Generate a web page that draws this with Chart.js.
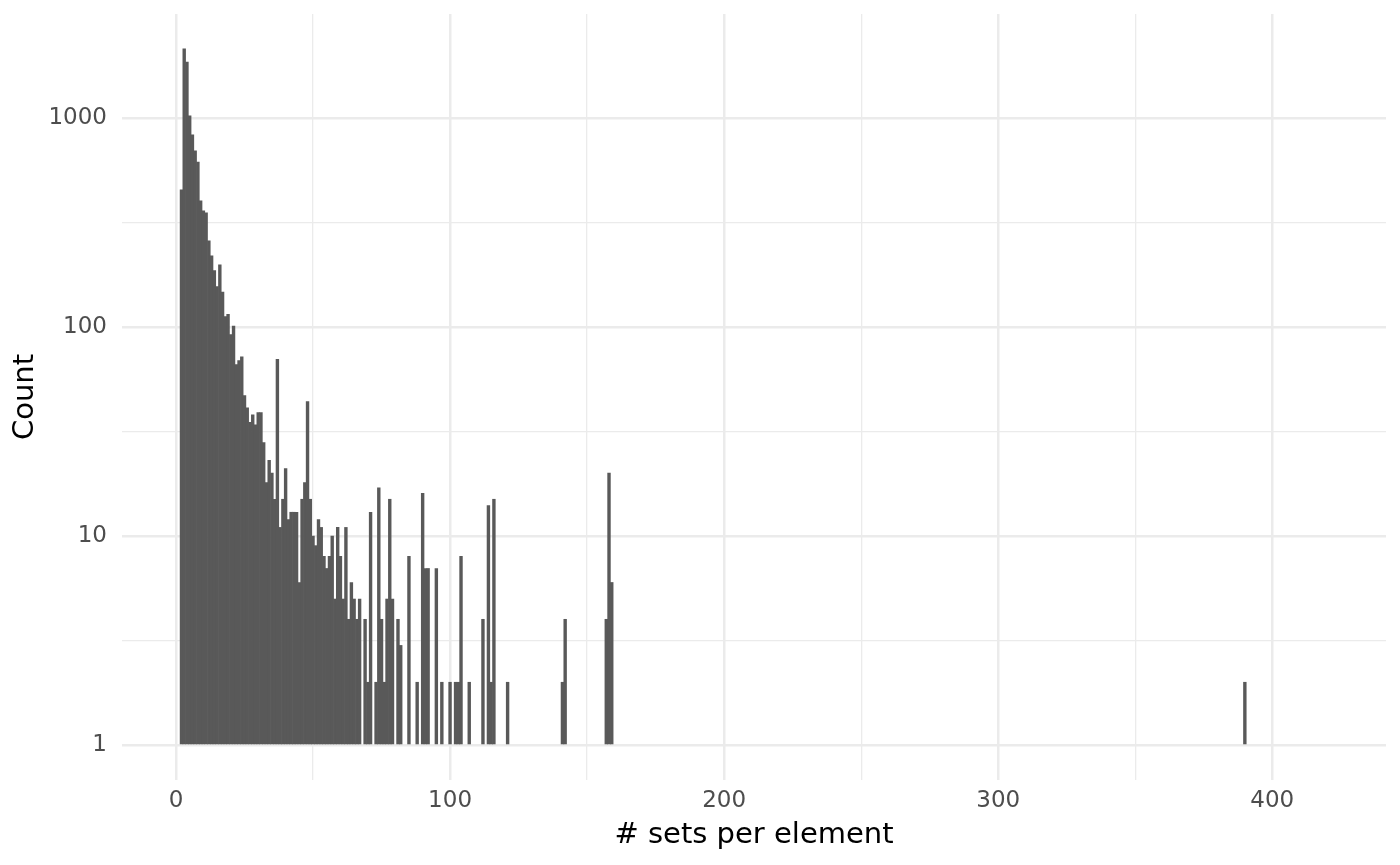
<!DOCTYPE html>
<html>
<head>
<meta charset="utf-8">
<script src="https://cdn.jsdelivr.net/npm/chart.js@4.4.0/dist/chart.umd.min.js"></script>
<style>
  html, body { margin: 0; padding: 0; background: #ffffff; }
  #wrap { width: 1400px; height: 865px; }
</style>
</head>
<body>
<div id="wrap"><canvas id="hist" width="1400" height="865"></canvas></div>
<script>
// bins with a non-zero count (# sets per element) and their counts
const bins = [2, 3, 4, 5, 6, 7, 8, 9, 10, 11, 12, 13, 14, 15, 16, 17, 18, 19, 20, 21,
  22, 23, 24, 25, 26, 27, 28, 29, 30, 31, 32, 33, 34, 35, 36, 37, 38, 39, 40, 41,
  42, 43, 44, 45, 46, 47, 48, 49, 50, 51, 52, 53, 54, 55, 56, 57, 58, 59, 60, 61,
  62, 63, 64, 65, 66, 67, 69, 70, 71, 73, 74, 75, 76, 77, 78, 79, 81, 82, 85, 88,
  90, 91, 92, 95, 97, 100, 102, 103, 104, 107, 112, 114, 115, 116, 121, 141, 142,
  157, 158, 159, 390];
const counts = [452, 2138, 1846, 1023, 829, 695, 614, 401, 359, 351, 258, 219, 186, 156, 198, 147, 112, 115, 92, 101,
  66, 69, 72, 47, 41, 35, 38, 34, 39, 39, 28, 18, 23, 20, 15, 70, 11, 15, 21, 12,
  13, 13, 13, 6, 15, 18, 44, 15, 10, 9, 12, 11, 8, 7, 8, 10, 5, 11, 8, 5,
  11, 4, 6, 5, 4, 5, 4, 2, 13, 2, 17, 4, 2, 5, 15, 5, 4, 3, 8, 2,
  16, 7, 7, 7, 2, 2, 2, 2, 8, 2, 4, 14, 2, 15, 2, 2, 4,
  4, 20, 6, 2];

const xMajorTicks = [0, 100, 200, 300, 400];
const xMinorTicks = [50, 150, 250, 350];
const yMajorTicks = [1, 10, 100, 1000];
const yMinorTicks = [3.1623, 31.623, 316.23];

const gridColor = '#EBEBEB';
const tickFont = { family: 'DejaVu Sans', size: 23 };
const titleFont = { family: 'DejaVu Sans', size: 29 };

const ctx = document.getElementById('hist');

new Chart(ctx, {
  type: 'bar',
  data: {
    datasets: [{
      label: 'Count',
      data: bins.map((b, i) => ({ x: b, y: counts[i] })),
      backgroundColor: '#595959',
      borderWidth: 0,
      base: 1,
      barPercentage: 1,
      categoryPercentage: 1
    }]
  },
  options: {
    responsive: false,
    animation: false,
    layout: { padding: { top: 14, right: 14, bottom: 0, left: 0 } },
    plugins: {
      legend: { display: false },
      tooltip: { enabled: false }
    },
    scales: {
      x: {
        type: 'linear',
        min: -19.7,
        max: 441.5,
        bounds: 'data',
        offset: false,
        afterBuildTicks: s => {
          s.ticks = [...xMajorTicks, ...xMinorTicks].sort((a, b) => a - b).map(v => ({ value: v }));
        },
        afterFit: s => {
          s.height = 85;
          s.paddingLeft = 0;
          s.paddingRight = 0;
        },
        grid: {
          offset: false,
          drawTicks: false,
          color: gridColor,
          lineWidth: c => (c.tick && xMajorTicks.includes(c.tick.value)) ? 2.5 : 1.3
        },
        border: { display: false },
        ticks: {
          autoSkip: false,
          maxRotation: 0,
          padding: 7,
          color: '#4D4D4D',
          font: tickFont,
          callback: v => xMajorTicks.includes(v) ? String(v) : ''
        },
        title: {
          display: true,
          text: '# sets per element',
          color: '#000000',
          font: titleFont,
          padding: { top: 0, bottom: 12.6 }
        }
      },
      y: {
        type: 'logarithmic',
        min: 0.6817,
        max: 3137,
        bounds: 'data',
        afterBuildTicks: s => {
          s.ticks = [...yMajorTicks, ...yMinorTicks].sort((a, b) => a - b).map(v => ({ value: v }));
        },
        afterFit: s => {
          // keep the panel edges where they are, the labels are not near them
          s.width = 122;
          s.paddingTop = 0;
          s.paddingBottom = 0;
        },
        grid: {
          drawTicks: false,
          color: gridColor,
          lineWidth: c => (c.tick && yMajorTicks.includes(c.tick.value)) ? 2.5 : 1.3
        },
        border: { display: false },
        ticks: {
          autoSkip: false,
          padding: 15,
          color: '#4D4D4D',
          font: tickFont,
          callback: v => yMajorTicks.includes(v) ? String(v) : ''
        },
        title: {
          display: true,
          text: 'Count',
          color: '#000000',
          font: titleFont,
          padding: { top: 7.6, bottom: 0 }
        }
      }
    }
  }
});
</script>
</body>
</html>
